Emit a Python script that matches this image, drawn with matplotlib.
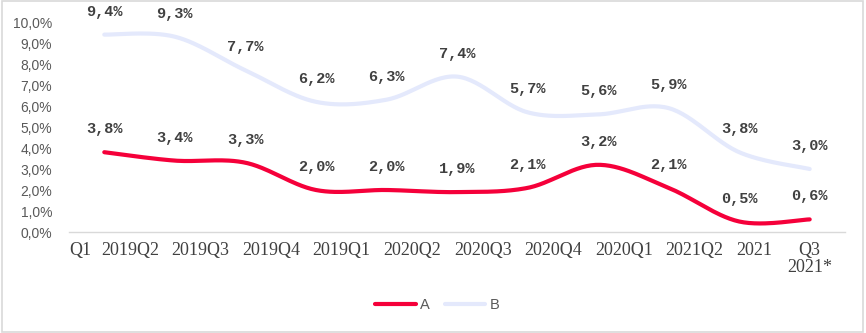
import numpy as np
import matplotlib
matplotlib.use("Agg")
import matplotlib.pyplot as plt
from matplotlib.lines import Line2D
from matplotlib.patches import Rectangle

# Quarterly rates, %
series_a = [3.8, 3.4, 3.3, 2.0, 2.0, 1.9, 2.1, 3.2, 2.1, 0.5, 0.6]
series_b = [9.4, 9.3, 7.7, 6.2, 6.3, 7.4, 5.7, 5.6, 5.9, 3.8, 3.0]
series_names = ["A", "B"]
tick_labels = ["Q1", "2019Q2", "2019Q3", "2019Q4", "2019Q1", "2020Q2",
               "2020Q3", "2020Q4", "2020Q1", "2021Q2", "2021", "Q3\n2021*"]
y_ticks = [0, 1, 2, 3, 4, 5, 6, 7, 8, 9, 10]

color_a = "#F5003A"
color_b = "#E4E9FC"
text_dark = "#404040"
text_gray = "#595959"


def smooth(x, y, steps=30):
    """Catmull-Rom curve through the points (Excel-style smoothed line)."""
    x = np.asarray(x, float)
    y = np.asarray(y, float)
    px = np.concatenate([[x[0]], x, [x[-1]]])
    py = np.concatenate([[y[0]], y, [y[-1]]])
    xs, ys = [], []
    t = np.linspace(0, 1, steps, endpoint=False)
    for i in range(1, len(px) - 2):
        p0, p1, p2, p3 = (np.array([px[j], py[j]]) for j in range(i - 1, i + 3))
        c1 = p1 + (p2 - p0) / 6
        c2 = p2 - (p3 - p1) / 6
        pts = ((1 - t)[:, None] ** 3 * p1 + 3 * ((1 - t) ** 2 * t)[:, None] * c1
               + 3 * ((1 - t) * t ** 2)[:, None] * c2 + (t ** 3)[:, None] * p2)
        xs.extend(pts[:, 0])
        ys.extend(pts[:, 1])
    xs.append(x[-1])
    ys.append(y[-1])
    return np.array(xs), np.array(ys)


fig = plt.figure(figsize=(8.66, 3.33), dpi=100)
fig.patches.append(Rectangle((0.002, 0.004), 0.995, 0.993, transform=fig.transFigure,
                             fill=False, edgecolor="#D9D9D9", linewidth=1.2))
ax = fig.add_axes([0.0797, 0.3033, 0.896, 0.6306])

x = np.arange(len(series_a))
for vals, col in ((series_b, color_b), (series_a, color_a)):
    sx, sy = smooth(x, vals)
    ax.plot(sx, sy, color=col, linewidth=3.0, solid_capstyle="round", zorder=3)
    for xi, v in zip(x, vals):
        ax.annotate(f"{v:.1f}%".replace(".", ","), (xi, v), xytext=(0, 16.5),
                    textcoords="offset points", ha="center", va="center",
                    fontsize=11, fontweight="bold", family="Liberation Mono",
                    color=text_dark, zorder=4)

ax.set_xlim(-0.5, len(series_a) - 0.5)
ax.set_ylim(0, 10)
ax.set_yticks(y_ticks)
ax.set_yticklabels([f"{v:.1f}%".replace(".", ",") for v in y_ticks],
                   family="Liberation Sans", fontsize=10, color=text_gray)

tick_pos = [-0.34] + [i + 0.365 for i in range(9)] + [9.21, 10.0]
ax.set_xticks(tick_pos)
ax.set_xticklabels(tick_labels, family="Liberation Serif", fontsize=13,
                   color=text_dark, linespacing=1.05)
ax.tick_params(axis="both", length=0)
ax.tick_params(axis="x", pad=7)
ax.tick_params(axis="y", pad=12)

for side in ("top", "right", "left"):
    ax.spines[side].set_visible(False)
ax.spines["bottom"].set_color("#D9D9D9")
ax.spines["bottom"].set_linewidth(1.0)

handles = [Line2D([], [], color=color_a, linewidth=3.0, solid_capstyle="round"),
           Line2D([], [], color=color_b, linewidth=3.0, solid_capstyle="round")]
fig.legend(handles, series_names, loc="center", bbox_to_anchor=(0.505, 0.085),
           ncol=2, frameon=False, handlelength=2.8, handletextpad=0.3,
           columnspacing=1.0, prop={"family": "Liberation Sans", "size": 10.5},
           labelcolor=text_gray)

fig.savefig("out.png", dpi=100)
